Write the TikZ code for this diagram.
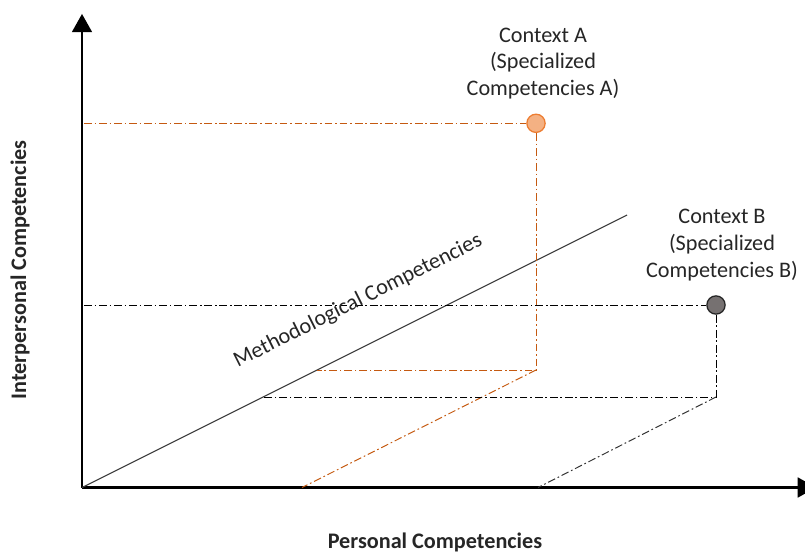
\documentclass[tikz,border=0pt]{standalone}
\usepackage{fontspec}
\setmainfont{Carlito}
\usetikzlibrary{arrows.meta}
\definecolor{ctxAline}{HTML}{C55A11}
\definecolor{ctxAfill}{HTML}{F4B183}
\definecolor{ctxAdraw}{HTML}{ED7D31}
\definecolor{ctxBfill}{HTML}{767171}
\definecolor{methline}{HTML}{404040}
\definecolor{labeltext}{HTML}{262626}
\tikzset{
  axisline/.style={line width=2pt, -{Triangle[length=13pt, width=14pt]}},
  dashdot/.style={line width=0.7pt, dash pattern=on 5.5pt off 2pt on 1.2pt off 2pt},
  ptnode/.style={circle, draw, minimum size=13pt, inner sep=0pt, line width=0.9pt},
  lbltext/.style={text=labeltext, inner sep=0pt, font=\fontsize{15.8pt}{19pt}\selectfont},
  ctxlabel/.style={lbltext, align=center},
}

\begin{document}
\begin{tikzpicture}%
\useasboundingbox (-2.05, -1.6625) rectangle (18.075, 12.1875);%
% axes
\coordinate (orig) at (0, 0);%
\coordinate (ytip) at (0, 11.84);%
\coordinate (xtip) at (18.35, 0);%
\coordinate (methend) at (13.625, 6.8125);%
\draw[axisline] (orig) -- (ytip);%
\draw[axisline] (orig) -- (xtip);%
\draw[methline, line width=0.8pt] (orig) -- (methend);%
% context A
\node[ptnode, draw=ctxAdraw, fill=ctxAfill] (ptA) at (11.35, 9.105) {};%
\coordinate (axA) at (0.05, 9.105);%
\coordinate (lowA) at (11.35, 2.9375);%
\coordinate (diagA) at (5.875, 2.9375);%
\coordinate (baseA) at (5.5, 0);%
\draw[dashdot, ctxAline] (axA) -- (ptA);%
\draw[dashdot, ctxAline] (ptA) -- (lowA) -- (diagA);%
\draw[dashdot, ctxAline] (lowA) -- (baseA);%
% context B
\node[ptnode, draw=black!85, fill=ctxBfill] (ptB) at (15.85, 4.5625) {};%
\coordinate (axB) at (0.05, 4.5625);%
\coordinate (lowB) at (15.85, 2.2625);%
\coordinate (diagB) at (4.525, 2.2625);%
\coordinate (baseB) at (11.4, 0);%
\draw[dashdot, black] (axB) -- (ptB);%
\draw[dashdot, black] (ptB) -- (lowB) -- (diagB);%
\draw[dashdot, black!80] (lowB) -- (baseB);%
% labels
\node[ctxlabel] (ctxA) at (11.525, 10.605) {Context A\\(Specialized\\Competencies A)};%
\node[ctxlabel] (ctxB) at (16.0, 6.0625) {Context B\\(Specialized\\Competencies B)};%
\node[lbltext, rotate=26.57] (methlabel) at (6.9, 4.66) {Methodological Competencies};%
\node[lbltext, rotate=90, font=\fontsize{15.8pt}{19pt}\selectfont\bfseries] (ylabel) at (-1.55, 5.4375) {Interpersonal Competencies};%
\node[lbltext, font=\fontsize{15.8pt}{19pt}\selectfont\bfseries] (xlabel) at (8.825, -1.3625) {Personal Competencies};%
\end{tikzpicture}
\end{document}
